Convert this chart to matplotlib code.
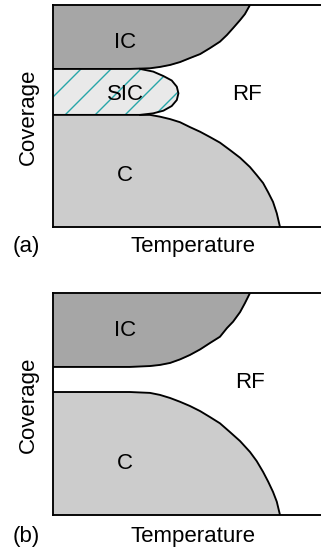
import matplotlib
matplotlib.use("Agg")
import matplotlib.pyplot as plt

plt.rcParams['font.family'] = ['Liberation Sans', 'DejaVu Sans']
plt.rcParams['hatch.linewidth'] = 1.1

# phase boundaries, temperature (x) vs coverage (y), both on a 0-100 scale
ic_x = [0, 28.7, 36.2, 39.9, 43.7, 47.4, 51.1, 54.9, 58.6, 62.3, 64.9, 67.2, 69.8, 71.6, 73.5]
ic_a = [71.2, 71.2, 71.5, 72.1, 73.0, 74.3, 76.1, 77.9, 80.6, 83.5, 86.5, 89.6, 93.2, 95.9, 100]
ic_b = [66.7, 66.7, 67.1, 67.6, 68.5, 70.1, 72.1, 74.6, 77.5, 80.3, 84.2, 87.1, 91.4, 95.4, 100]

c_x = [0, 28.7, 36.2, 39.9, 43.7, 47.4, 51.1, 54.9, 58.6, 62.3, 66.0, 69.8, 73.5, 76.0,
       78.4, 80.3, 82.1, 83.5, 84.7]
c_a = [50.5, 50.5, 50.5, 49.7, 48.6, 47.2, 45.0, 42.9, 40.5, 38.0, 34.7, 31.2, 27.0, 23.4,
       19.8, 15.6, 11.3, 6.2, 0]
c_b = [55.4, 55.4, 55.0, 54.1, 52.7, 51.0, 49.1, 46.8, 44.1, 41.3, 37.4, 33.3, 28.4, 24.3,
       19.4, 15.0, 10.4, 6.0, 0]

sic_x = [0, 32.5, 37.4, 41.2, 44.3, 46.2, 46.8, 46.2, 44.3, 41.2, 37.4, 32.5, 0]
sic_y = [71.2, 71.2, 70, 68, 66, 63.2, 60.2, 57.2, 54.5, 52.4, 51.2, 50.5, 50.5]

ic_color = '#a6a6a6'
c_color = '#cccccc'
sic_color = '#e9e9e9'
hatch_color = '#26a5a8'
fs = 17.8
lw = 1.5

W, H, DPI = 321, 548, 90
fig = plt.figure(figsize=(W / DPI, H / DPI), dpi=DPI)


def make_axes(top_px, bottom_px):
    ax = fig.add_axes([53 / W, 1 - bottom_px / H, (W - 53) / W, (bottom_px - top_px) / H])
    ax.set_xlim(0, 100)
    ax.set_ylim(0, 100)
    ax.set_xticks([])
    ax.set_yticks([])
    ax.spines['right'].set_visible(False)
    for s in ['left', 'top', 'bottom']:
        ax.spines[s].set_linewidth(lw)
    return ax


def draw_panel(ax, ic_y, c_y):
    ax.fill_between(ic_x, ic_y, 100, color=ic_color, lw=0)
    ax.fill_between(c_x, 0, c_y, color=c_color, lw=0)
    ax.plot(ic_x, ic_y, color='black', lw=lw, solid_capstyle='butt')
    ax.plot(c_x, c_y, color='black', lw=lw, solid_capstyle='butt')


# (a)
ax1 = make_axes(5, 227)
ax1.fill(sic_x, sic_y, facecolor=sic_color, lw=0)
ax1.fill(sic_x, sic_y, facecolor='none', edgecolor=hatch_color, hatch='/', lw=0)
draw_panel(ax1, ic_a, c_a)
ax1.plot(sic_x[1:-1], sic_y[1:-1], color='black', lw=lw)
ax1.text(26.9, 83.3, 'IC', fontsize=fs, ha='center', va='center')
ax1.text(26.9, 59.5, 'SIC', fontsize=fs, ha='center', va='center')
ax1.text(72.5, 59.5, 'RF', fontsize=fs, ha='center', va='center')
ax1.text(26.9, 23, 'C', fontsize=fs, ha='center', va='center')

# (b)
ax2 = make_axes(293, 515)
draw_panel(ax2, ic_b, c_b)
ax2.text(26.9, 83.3, 'IC', fontsize=fs, ha='center', va='center')
ax2.text(73.5, 59.9, 'RF', fontsize=fs, ha='center', va='center')
ax2.text(26.9, 23, 'C', fontsize=fs, ha='center', va='center')

# axis labels and panel tags
for base, mid, tag in [(251.7, 117, '(a)'), (541.7, 405, '(b)')]:
    fig.text(193 / W, 1 - base / H, 'Temperature', fontsize=fs, ha='center', va='baseline')
    fig.text(26 / W, 1 - base / H, tag, fontsize=fs, ha='center', va='baseline')
    fig.text(28 / W, 1 - mid / H, 'Coverage', fontsize=fs, ha='center', va='center', rotation=90)

fig.savefig('out.png', dpi=DPI)
